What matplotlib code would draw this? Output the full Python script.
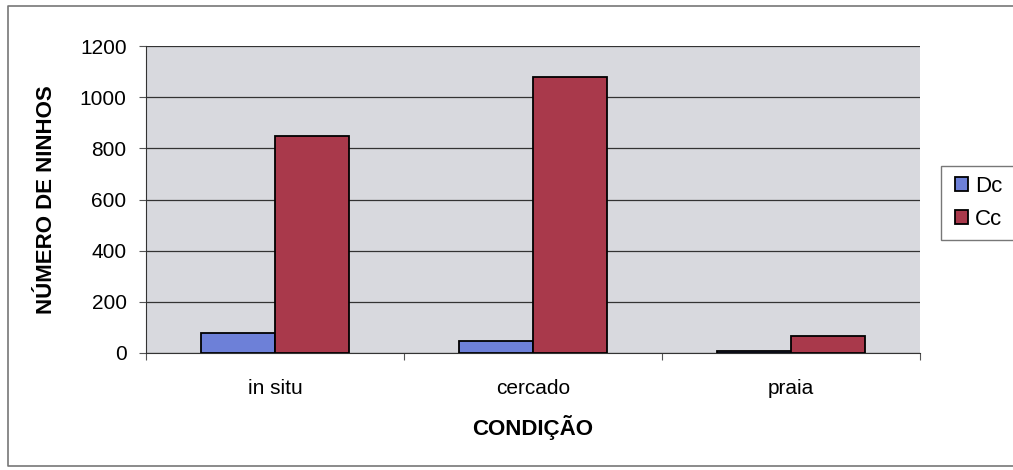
import numpy as np
import matplotlib
matplotlib.use('Agg')
import matplotlib.pyplot as plt
from matplotlib.lines import Line2D

# data
categories = ['in situ', 'cercado', 'praia']
dc_values = [78, 47, 8]
cc_values = [850, 1080, 68]
series_names = ['Dc', 'Cc']
y_ticks = [0, 200, 400, 600, 800, 1000, 1200]


def plot_bars():
    fig = plt.figure(figsize=(10.13, 4.70), dpi=100)
    plt.rcParams['font.family'] = ['Liberation Sans', 'DejaVu Sans']

    # outer frame of the pasted chart (right side is cut off)
    fx = [1.0, 8 / 1013, 8 / 1013, 1.0]
    fy = [1 - 6 / 470, 1 - 6 / 470, 1 - 466 / 470, 1 - 466 / 470]
    fig.lines.append(Line2D(fx, fy, transform=fig.transFigure,
                            color='#777777', linewidth=1.2))

    ax = fig.add_axes([146 / 1013, 1 - 353 / 470, 774 / 1013, 307 / 470])
    ax.set_facecolor('#d8d9de')

    x = np.arange(len(categories))
    width = 1 / 3.5
    ax.bar(x - width / 2, dc_values, width, color='#6d80d8',
           edgecolor='black', linewidth=1.3, label=series_names[0], zorder=3)
    ax.bar(x + width / 2, cc_values, width, color='#a9394b',
           edgecolor='black', linewidth=1.3, label=series_names[1], zorder=3)

    ax.set_xlim(-0.5, len(categories) - 0.5)
    ax.set_ylim(0, 1200)
    ax.set_yticks(y_ticks)
    ax.yaxis.grid(True, color='#333333', linewidth=0.9, zorder=1)
    ax.set_axisbelow(True)

    # x ticks sit between the groups, labels centred on groups
    ax.set_xticks(np.arange(len(categories) + 1) - 0.5)
    ax.set_xticklabels([])
    ax.set_xticks(x, minor=True)
    ax.set_xticklabels(categories, minor=True, fontsize=15)
    ax.tick_params(axis='x', which='minor', length=0, pad=19)
    ax.tick_params(axis='x', which='major', length=5, color='#555555')
    ax.tick_params(axis='y', labelsize=15, length=5, pad=9, color='#555555')

    for side in ['top', 'right']:
        ax.spines[side].set_visible(False)
    ax.spines['left'].set_color('#333333')
    ax.spines['bottom'].set_color('#333333')

    ax.set_xlabel('CONDIÇÃO', fontsize=16, fontweight='bold', labelpad=12)
    ax.set_ylabel('NÚMERO DE NINHOS', fontsize=16, fontweight='bold', labelpad=16)

    #legend box on the right, outside the plot area
    leg = ax.legend(loc='upper left', bbox_to_anchor=(941 / 1013, 1 - 166 / 470),
                    bbox_transform=fig.transFigure, borderaxespad=0,
                    fontsize=16, frameon=True, fancybox=False,
                    handlelength=0.6, handleheight=0.6, handletextpad=0.3,
                    borderpad=0.45, labelspacing=0.55)
    leg.get_frame().set_edgecolor('#555555')
    leg.get_frame().set_linewidth(1.0)
    leg._legend_box.set_width(55)

    plt.savefig('out.png', dpi=100)
    plt.close(fig)


def main():
    plot_bars()


if __name__ == '__main__':
    main()
